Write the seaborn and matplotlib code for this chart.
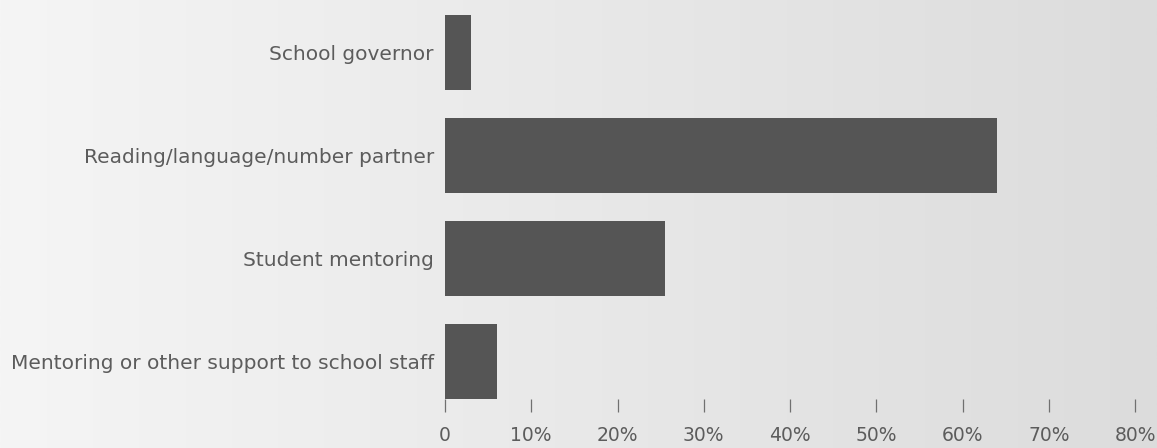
import numpy as np
import pandas as pd
import matplotlib
matplotlib.use("Agg")
import matplotlib.pyplot as plt
import matplotlib.ticker as mticker
from matplotlib.colors import LinearSegmentedColormap
import seaborn as sns

# ------------------------------------------------------------------
# DATA
# ------------------------------------------------------------------
roles = ["School governor",
         "Reading/language/number partner",
         "Student mentoring",
         "Mentoring or other support to school staff"]
shares = [0.03, 0.64, 0.255, 0.06]
xticks = [0, 0.1, 0.2, 0.3, 0.4, 0.5, 0.6, 0.7, 0.8]

df = pd.DataFrame({"role": roles, "share": shares})

# ------------------------------------------------------------------
# SETTINGS
# ------------------------------------------------------------------
sns.set_theme(style="white")
plt.rcParams["font.family"] = ["DejaVu Sans"]
TEXT = "#5c5c5c"
BAR = "#555555"

fig = plt.figure(figsize=(11.57, 4.48), dpi=100)

# gradient background across the whole figure
bg = fig.add_axes([0, 0, 1, 1], zorder=-1)
cmap = LinearSegmentedColormap.from_list("bg", ["#f5f5f5", "#dcdcdc"], N=1024)
bg.imshow(np.linspace(0, 1, 1024).reshape(1, -1), aspect="auto", cmap=cmap,
          extent=[0, 1, 0, 1], interpolation="bilinear")
bg.set_axis_off()

W, H = 1157, 448
ax = fig.add_axes([445 / W, (H - 399) / H, (1135 - 445) / W, (399 - 15) / H])
ax.set_facecolor("none")

sns.barplot(data=df, x="share", y="role", orient="h", color=BAR,
            width=0.73, saturation=1, linewidth=0, ax=ax)

ax.set_xlim(0, 0.8)
ax.set_ylim(3.365, -0.365)
ax.set_xticks(xticks)
ax.xaxis.set_major_formatter(
    mticker.FuncFormatter(lambda x, _: "0" if x == 0 else f"{x * 100:.0f}%"))
ax.tick_params(axis="x", direction="out", length=9.4, width=0.9, color="#707070",
               pad=10, labelsize=13.5, labelcolor=TEXT, bottom=True)
ax.tick_params(axis="y", length=0, pad=8, labelsize=14.5, labelcolor=TEXT)
ax.set_xlabel("")
ax.set_ylabel("")
for s in ax.spines.values():
    s.set_visible(False)

plt.savefig("out.png", dpi=100)
plt.close()
